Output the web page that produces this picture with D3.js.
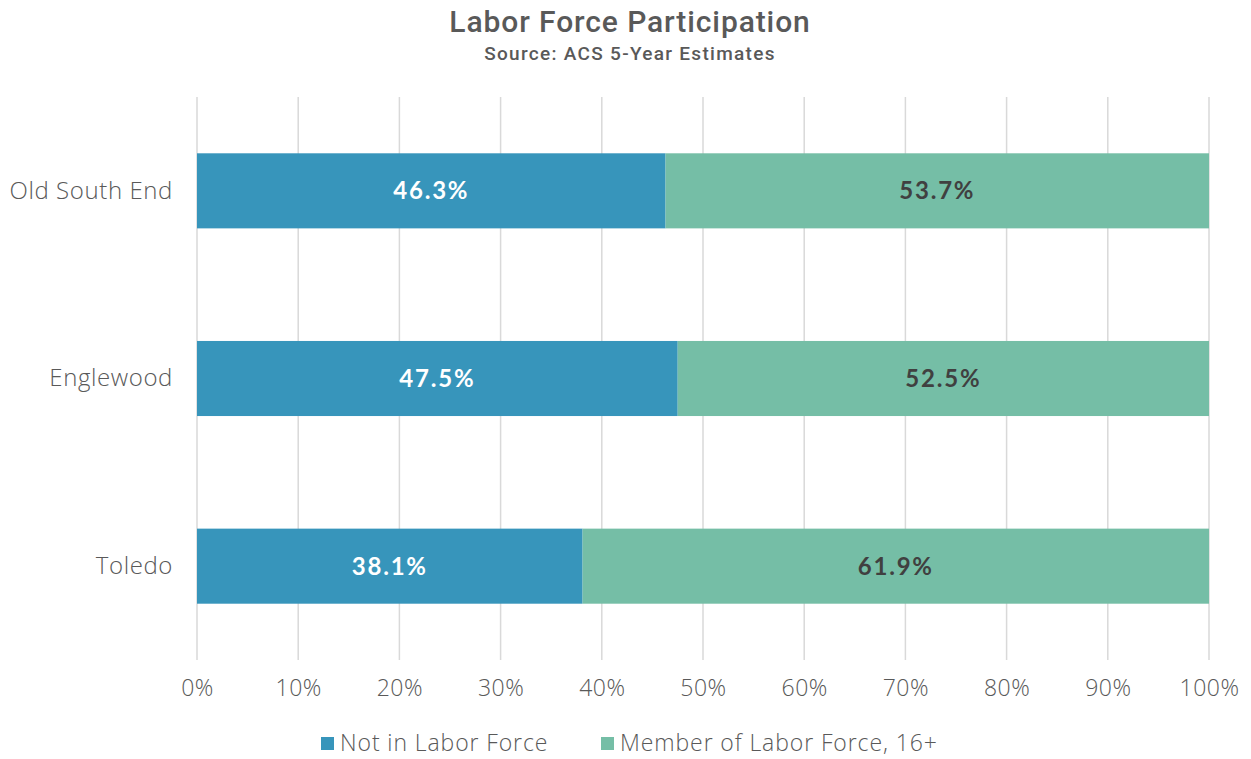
<!DOCTYPE html>
<html>
<head>
<meta charset="utf-8">
<script src="https://cdn.jsdelivr.net/npm/d3@7"></script>
<style>
  body { margin: 0; background: #fff; }
  svg { display: block; }
</style>
</head>
<body>
<script>
const w = 1251; // width
const h = 759; // height

// data
const places = ["Old South End", "Englewood", "Toledo"];
const notInLabor = [46.3, 47.5, 38.1];
const member = [53.7, 52.5, 61.9];
const seriesNames = ["Not in Labor Force", "Member of Labor Force, 16+"];
const ticks = [0, 10, 20, 30, 40, 50, 60, 70, 80, 90, 100];

const colors = ["#3795bb", "#75bea6"];
const labelFont = "'Open Sans', Lato, sans-serif";

let svg = d3.select("body")
    .append("svg")
    .attr("width", w)
    .attr("height", h);

// scales
let x = d3.scaleLinear()
    .domain([0, 100])
    .range([197, 1209]);

let y = d3.scaleBand()
    .domain(places)
    .range([97, 660])
    .paddingInner(0.6)
    .paddingOuter(0.3);

// gridlines
svg.append("g")
    .selectAll("line")
    .data(ticks)
    .enter()
    .append("line")
    .attr("x1", (d) => x(d))
    .attr("x2", (d) => x(d))
    .attr("y1", 97)
    .attr("y2", 660)
    .attr("stroke", "#d9d9d9")
    .attr("stroke-width", 1.5);

// stacked rows
let rows = places.map((p, i) => ({ place: p, a: notInLabor[i], b: member[i] }));

let g = svg.append("g");
g.selectAll(".bar-a")
    .data(rows)
    .enter()
    .append("rect")
    .attr("x", x(0))
    .attr("y", (d) => y(d.place))
    .attr("width", (d) => x(d.a) - x(0))
    .attr("height", y.bandwidth())
    .attr("fill", colors[0]);

g.selectAll(".bar-b")
    .data(rows)
    .enter()
    .append("rect")
    .attr("x", (d) => x(d.a))
    .attr("y", (d) => y(d.place))
    .attr("width", (d) => x(d.a + d.b) - x(d.a))
    .attr("height", y.bandwidth())
    .attr("fill", colors[1]);

// value labels
g.selectAll(".lab-a")
    .data(rows)
    .enter()
    .append("text")
    .attr("x", (d) => x(d.a / 2))
    .attr("y", (d) => y(d.place) + y.bandwidth() / 2)
    .attr("dy", "0.36em")
    .attr("text-anchor", "middle")
    .attr("fill", "#ffffff")
    .style("font", `bold 24px Lato, sans-serif`)
    .style("letter-spacing", "1.8px")
    .text((d) => d.a.toFixed(1) + "%");

g.selectAll(".lab-b")
    .data(rows)
    .enter()
    .append("text")
    .attr("x", (d) => x(d.a + d.b / 2))
    .attr("y", (d) => y(d.place) + y.bandwidth() / 2)
    .attr("dy", "0.36em")
    .attr("text-anchor", "middle")
    .attr("fill", "#404040")
    .style("font", `bold 24px Lato, sans-serif`)
    .style("letter-spacing", "1.8px")
    .text((d) => d.b.toFixed(1) + "%");

// category axis
let axisY = d3.axisLeft(y).tickSize(0).tickPadding(24);
let gY = svg.append("g")
    .attr("transform", `translate(${x(0)},0)`)
    .call(axisY);
gY.select(".domain").remove();
gY.selectAll("text")
    .attr("fill", "#595959")
    .style("font", `300 24px ${labelFont}`)
    .style("letter-spacing", "0.6px");

// value axis
let axisX = d3.axisBottom(x)
    .tickValues(ticks)
    .tickSize(0)
    .tickPadding(20)
    .tickFormat((d) => d + "%");
let gX = svg.append("g")
    .attr("transform", `translate(0,660)`)
    .call(axisX);
gX.select(".domain").remove();
gX.selectAll("text")
    .attr("fill", "#595959")
    .style("font", `300 23px ${labelFont}`)
    .style("letter-spacing", "0.5px");

// title
svg.append("text")
    .attr("x", 630)
    .attr("y", 32)
    .attr("text-anchor", "middle")
    .attr("fill", "#595959")
    .style("font", "500 30px Roboto, sans-serif")
    .style("letter-spacing", "0.9px")
    .text("Labor Force Participation");

svg.append("text")
    .attr("x", 630)
    .attr("y", 60)
    .attr("text-anchor", "middle")
    .attr("fill", "#595959")
    .style("font", "500 19px Roboto, sans-serif")
    .style("letter-spacing", "1.3px")
    .text("Source: ACS 5-Year Estimates");

// legend
let legendX = [321, 601];
let legend = svg.append("g")
    .selectAll("g")
    .data(seriesNames)
    .enter()
    .append("g")
    .attr("transform", (d, i) => `translate(${legendX[i]},737)`);
legend.append("rect")
    .attr("width", 13)
    .attr("height", 13)
    .attr("fill", (d, i) => colors[i]);
legend.append("text")
    .attr("x", 19)
    .attr("y", 6.5)
    .attr("dy", "0.34em")
    .attr("fill", "#595959")
    .style("font", `300 23px ${labelFont}`)
    .style("letter-spacing", "0.9px")
    .text((d) => d);
</script>
</body>
</html>
